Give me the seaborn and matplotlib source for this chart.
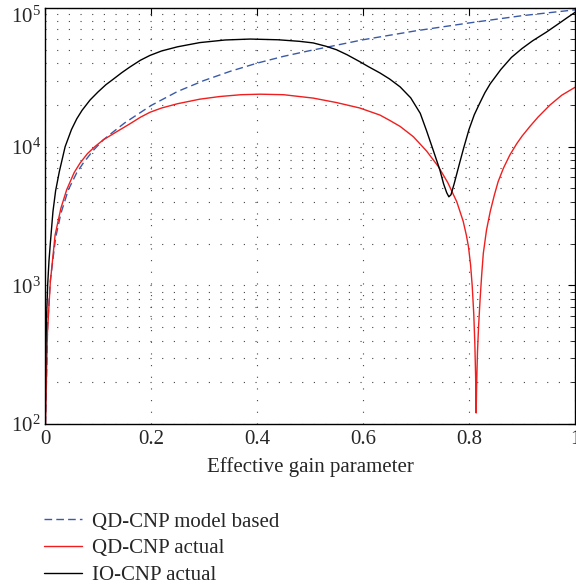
import matplotlib
matplotlib.use("Agg")
import matplotlib.pyplot as plt
import matplotlib.transforms as mtransforms
import seaborn as sns
from matplotlib.lines import Line2D
from matplotlib.ticker import FixedLocator, LogLocator, NullFormatter

# Effective gain parameter and the three capacity-noise curves
model_x = [0.001, 0.005, 0.01, 0.02, 0.03, 0.044, 0.06, 0.072, 0.09, 0.11,
           0.13, 0.15, 0.2, 0.25, 0.3, 0.35, 0.4, 0.45, 0.5, 0.53, 0.6, 0.7,
           0.8, 0.9, 1.0]
model_y = [100, 520, 1080, 2200, 3300, 4880, 6500, 7600, 9300, 11200,
           12900, 14800, 19800, 25000, 30000, 35000, 40000, 44800, 49300,
           52000, 59000, 68500, 78000, 88000, 97000]

qd_x = [0.001, 0.0044, 0.01, 0.019, 0.03, 0.041, 0.055, 0.066, 0.08, 0.094,
        0.11, 0.135, 0.16, 0.18, 0.198, 0.22, 0.25, 0.292, 0.33, 0.37, 0.406,
        0.45, 0.506, 0.55, 0.594, 0.632, 0.65, 0.67, 0.695, 0.72, 0.742,
        0.76, 0.777, 0.789, 0.795, 0.799, 0.803, 0.806, 0.809, 0.811, 0.8125,
        0.8135, 0.8145, 0.816, 0.818, 0.821, 0.824, 0.827, 0.833, 0.84,
        0.848, 0.855, 0.865, 0.877, 0.89, 0.9, 0.915, 0.93, 0.953, 0.975,
        1.0]
qd_y = [100, 440, 1050, 2300, 3600, 4900, 6500, 7600, 8900, 10000,
        11200, 12800, 14600, 16300, 17700, 19000, 20400, 22000, 23000, 23700,
        23900, 23700, 22400, 20800, 19000, 16900, 15500, 14000, 11800, 9300,
        7200, 5500, 4000, 2900, 2300, 1900, 1400, 1000, 620, 380, 220,
        120, 200, 330, 500, 800, 1200, 1700, 2500, 3400,
        4500, 5600, 7000, 8700, 10500, 11900, 14000, 16300, 20000, 23500,
        26800]

io_x = [0.0005, 0.001, 0.002, 0.003, 0.005, 0.0075, 0.01, 0.015, 0.02, 0.027,
        0.038, 0.05, 0.06, 0.07, 0.085, 0.1, 0.115, 0.127, 0.145, 0.16, 0.18,
        0.198, 0.22, 0.25, 0.292, 0.34, 0.387, 0.44, 0.48, 0.506, 0.53, 0.55,
        0.57, 0.594, 0.61, 0.632, 0.65, 0.67, 0.69, 0.708, 0.72, 0.733, 0.745,
        0.752, 0.758, 0.762, 0.766, 0.772, 0.778, 0.783, 0.79, 0.8, 0.81,
        0.82, 0.83, 0.84, 0.86, 0.88, 0.9, 0.92, 0.946, 0.97, 0.985, 1.0]
io_y = [100, 200, 400, 600, 1000, 1500, 2000, 3400, 4800, 6600,
        10000, 13300, 15900, 18300, 21700, 24800, 28000, 30300, 34200, 37500,
        42000, 45500, 49000, 52500, 56300, 58800, 59700, 59000, 57500, 56000,
        53000, 50000, 46000, 41000, 37800, 34000, 30800, 27000, 22500, 17400,
        13000, 9300, 6800, 5400, 4650, 4350, 4500, 5400, 6600, 7800, 9800,
        13300, 17000, 20500, 24500, 28400, 36000, 44000, 51000, 58000, 67000,
        77500, 85000, 93000]

labels = ["QD-CNP model based", "QD-CNP actual", "IO-CNP actual"]
x_ticks = [0, 0.2, 0.4, 0.6, 0.8, 1]
x_tick_labels = ["0", "0.2", "0.4", "0.6", "0.8", "1"]

sns.set_theme(style="white")
plt.rcParams["font.family"] = ["Liberation Serif", "DejaVu Serif"]
plt.rcParams["mathtext.fontset"] = "custom"
plt.rcParams["mathtext.rm"] = "Liberation Serif"
plt.rcParams["mathtext.it"] = "Liberation Serif:italic"

FS = 15
blue = "#3a5aa8"
red = "#f01e1e"
dashed = (0, (5.5, 3))

fig = plt.figure(figsize=(5.76, 5.86), dpi=100)
ax = fig.add_axes([45 / 576, 1 - 424 / 586, 530 / 576, 416 / 586])

sns.lineplot(x=model_x, y=model_y, ax=ax, color=blue, lw=1.0,
             linestyle=dashed, sort=False)
sns.lineplot(x=qd_x, y=qd_y, ax=ax, color=red, lw=1.0, sort=False)
sns.lineplot(x=io_x, y=io_y, ax=ax, color="black", lw=1.0, sort=False)

ax.set_yscale("log")
ax.set_xlim(0, 1)
ax.set_ylim(1e2, 1e5)
ax.xaxis.set_major_locator(FixedLocator(x_ticks))
ax.set_xticklabels(x_tick_labels)
ax.yaxis.set_major_locator(LogLocator(base=10))
ax.yaxis.set_minor_locator(LogLocator(base=10, subs=range(2, 10)))
ax.yaxis.set_minor_formatter(NullFormatter())

dot = (0, (1, 9.5))
ax.grid(True, axis="x", which="major", color="#444444", lw=0.8, linestyle=dot)
ax.grid(True, axis="y", which="both", color="#444444", lw=0.8, linestyle=dot)

ax.tick_params(which="both", direction="in", top=True, right=True,
               labelsize=FS, color="black")
ax.tick_params(axis="x", pad=4)
ax.tick_params(axis="y", pad=3)
ax.tick_params(which="major", length=5, width=0.8)
ax.tick_params(which="minor", length=3, width=0.6)
for sp in ax.spines.values():
    sp.set_color("black")
    sp.set_linewidth(1.0)

ax.set_xlabel("Effective gain parameter", fontsize=FS, labelpad=6)
ax.set_ylabel("")

# nudge the topmost decade label down so it stays inside the figure
fig.canvas.draw()
for tick in ax.yaxis.get_major_ticks():
    if abs(tick.get_loc() - 1e5) < 1:
        lab = tick.label1
        lab.set_transform(lab.get_transform() + mtransforms.ScaledTranslation(
            0, -5 / 72, fig.dpi_scale_trans))

handles = [
    Line2D([], [], color=blue, lw=1.0, linestyle=dashed),
    Line2D([], [], color=red, lw=1.0),
    Line2D([], [], color="black", lw=1.0),
]
fig.legend(handles, labels, loc="upper left",
           bbox_to_anchor=(44 / 576, 1 - 512 / 586), frameon=False,
           fontsize=FS, handlelength=1.8, handletextpad=0.5,
           labelspacing=0.34, borderpad=0, borderaxespad=0)

fig.savefig("out.png", dpi=100)
